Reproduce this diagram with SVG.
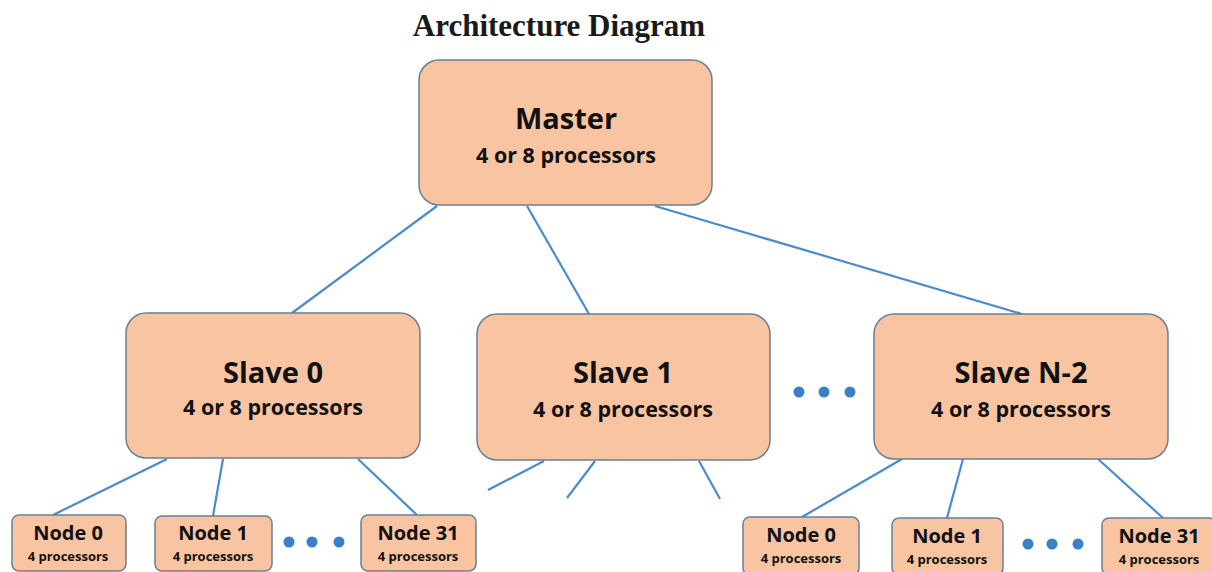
<svg xmlns="http://www.w3.org/2000/svg" width="1212" height="572" viewBox="0 0 1212 572">
<style>
.box{fill:#F8C4A1;stroke:#6B7F95;stroke-width:1.5}
.t{font-family:"Open Sans","Liberation Sans",sans-serif;font-weight:700;fill:#111;text-anchor:middle}
.big{font-size:29px}
.mid{font-size:21.5px}
.nb{font-size:20px}
.ns{font-size:13px}
.c line{stroke:#4A8BCB;stroke-width:2.2;fill:none}
.dot{fill:#3B80C6}
.title{font-family:"Liberation Serif","Times New Roman",serif;font-weight:700;font-size:31px;fill:#1a1a1a;text-anchor:middle}
</style>
<rect width="1212" height="572" fill="#ffffff"/>
<text class="title" x="559" y="36">Architecture Diagram</text>
<g class="c" id="connectors">
<line x1="437" y1="206" x2="292" y2="313"/>
<line x1="527" y1="206" x2="589" y2="314"/>
<line x1="655" y1="206" x2="1022" y2="314"/>
<line x1="167" y1="459" x2="53" y2="515"/>
<line x1="223" y1="459" x2="213" y2="516"/>
<line x1="358" y1="459" x2="417" y2="515"/>
<line x1="544" y1="461" x2="488" y2="490"/>
<line x1="595" y1="461" x2="567" y2="498"/>
<line x1="699" y1="461" x2="720" y2="499"/>
<line x1="902" y1="459" x2="802" y2="517"/>
<line x1="963" y1="459" x2="947" y2="518"/>
<line x1="1098" y1="459" x2="1163" y2="518"/>
</g>
<g id="master">
<rect class="box" x="419" y="60" width="293" height="145" rx="20"/>
<text class="t big" x="566" y="129">Master</text>
<text class="t mid" x="566" y="163">4 or 8 processors</text>
</g>
<g id="slave0">
<rect class="box" x="126" y="313" width="294" height="145" rx="20"/>
<text class="t big" x="273" y="383">Slave 0</text>
<text class="t mid" x="273" y="415">4 or 8 processors</text>
</g>
<g id="slave1">
<rect class="box" x="477" y="314" width="293" height="146" rx="20"/>
<text class="t big" x="623" y="383">Slave 1</text>
<text class="t mid" x="623" y="417">4 or 8 processors</text>
</g>
<g id="slaveN2">
<rect class="box" x="874" y="314" width="294" height="145" rx="20"/>
<text class="t big" x="1021" y="383">Slave N-2</text>
<text class="t mid" x="1021" y="417">4 or 8 processors</text>
</g>
<g id="dots-slaves">
<circle class="dot" cx="799" cy="392" r="5.5"/>
<circle class="dot" cx="824" cy="392" r="5.5"/>
<circle class="dot" cx="850" cy="392" r="5.5"/>
</g>
<g id="s0-node0">
<rect class="box" x="12" y="515" width="114" height="56" rx="7"/>
<text class="t nb" x="68" y="540">Node 0</text>
<text class="t ns" x="68" y="561">4 processors</text>
</g>
<g id="s0-node1">
<rect class="box" x="155" y="516" width="117" height="55" rx="7"/>
<text class="t nb" x="213" y="540">Node 1</text>
<text class="t ns" x="213" y="561">4 processors</text>
</g>
<g id="dots-s0">
<circle class="dot" cx="289" cy="542" r="5.5"/>
<circle class="dot" cx="312" cy="542" r="5.5"/>
<circle class="dot" cx="339" cy="542" r="5.5"/>
</g>
<g id="s0-node31">
<rect class="box" x="361" y="515" width="115" height="56" rx="7"/>
<text class="t nb" x="418" y="540">Node 31</text>
<text class="t ns" x="418" y="561">4 processors</text>
</g>
<g id="sn-node0">
<rect class="box" x="743" y="517" width="116" height="58" rx="7"/>
<text class="t nb" x="801" y="542">Node 0</text>
<text class="t ns" x="801" y="563">4 processors</text>
</g>
<g id="sn-node1">
<rect class="box" x="892" y="518" width="111" height="57" rx="7"/>
<text class="t nb" x="947" y="543">Node 1</text>
<text class="t ns" x="947" y="564">4 processors</text>
</g>
<g id="dots-sn">
<circle class="dot" cx="1028" cy="544" r="5.5"/>
<circle class="dot" cx="1052" cy="544" r="5.5"/>
<circle class="dot" cx="1078" cy="544" r="5.5"/>
</g>
<g id="sn-node31">
<rect class="box" x="1102" y="518" width="114" height="57" rx="7"/>
<text class="t nb" x="1159" y="543">Node 31</text>
<text class="t ns" x="1159" y="564">4 processors</text>
</g>
</svg>
